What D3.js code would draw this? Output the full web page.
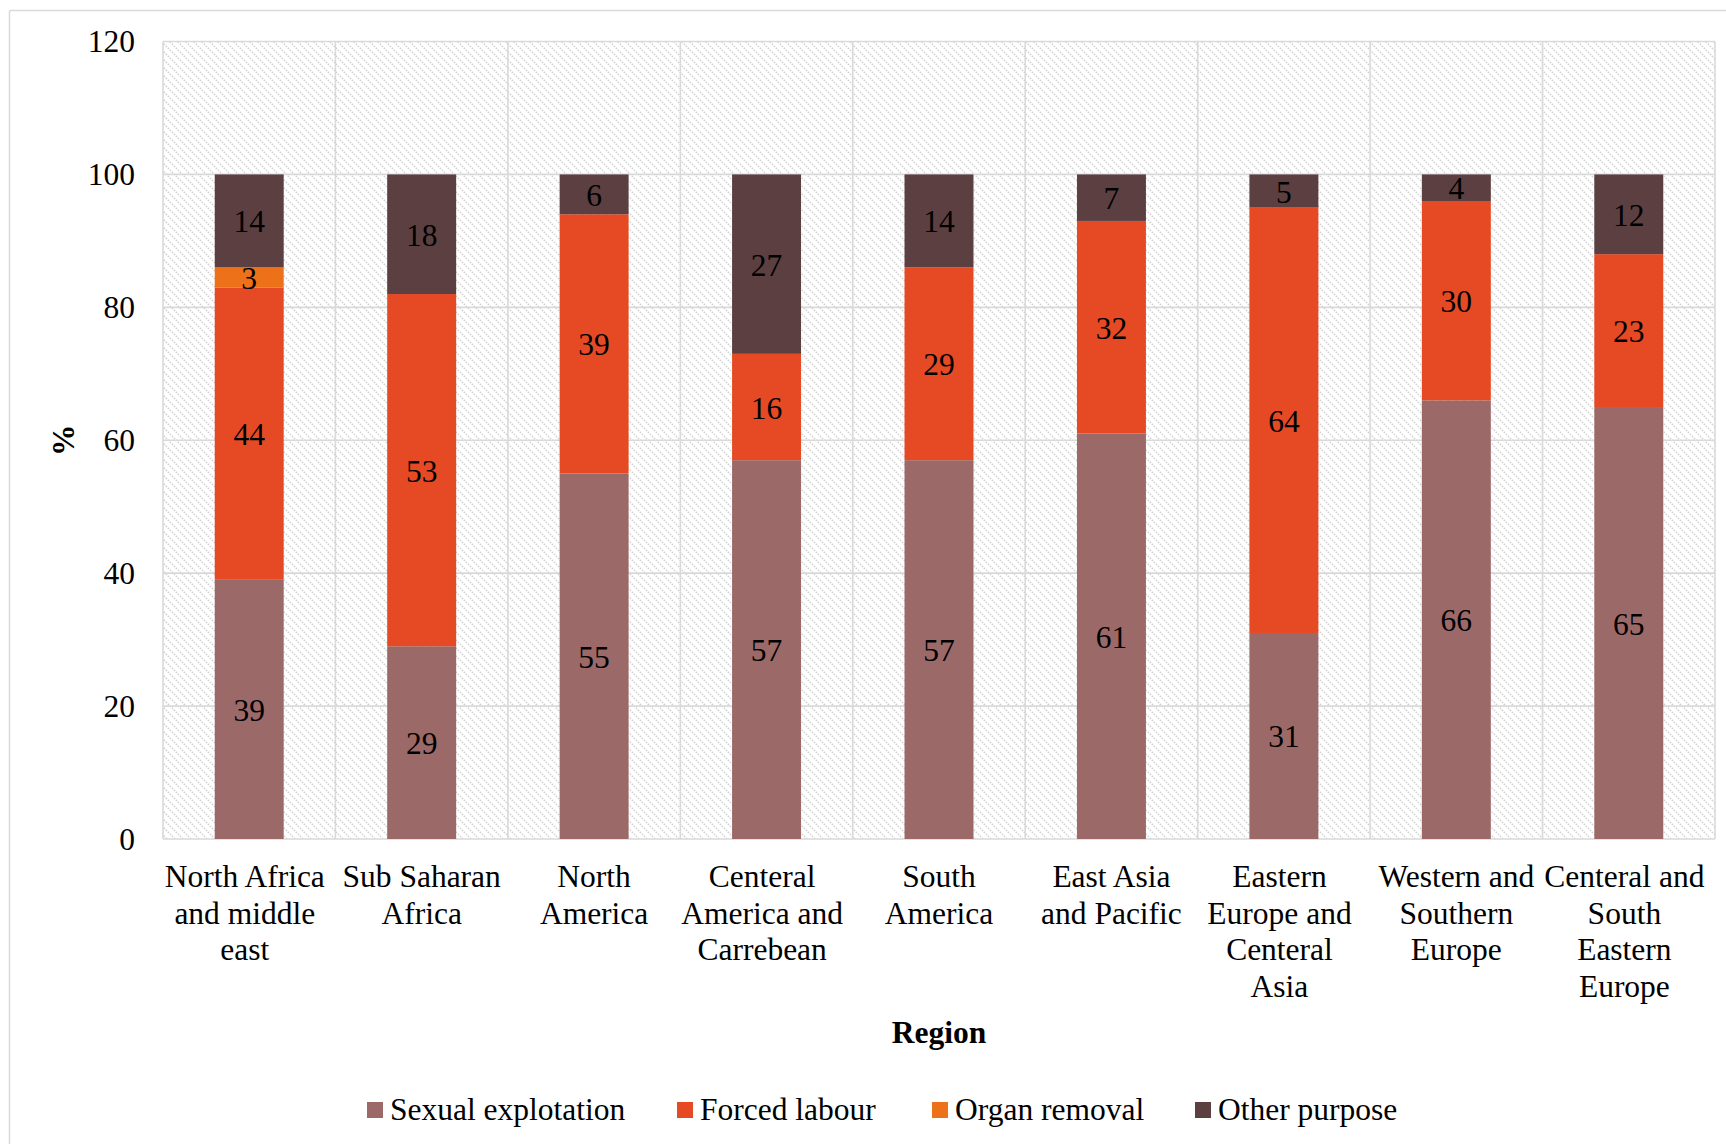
<!DOCTYPE html>
<html>
<head>
<meta charset="utf-8">
<script src="https://cdn.jsdelivr.net/npm/d3@7"></script>
<style>
  html, body { margin: 0; padding: 0; background: #fff; }
  svg { display: block; font-family: "Liberation Serif", "Times New Roman", serif; }
</style>
</head>
<body>
<svg id="chart" width="1726" height="1144"></svg>
<script>
// ---- Data ----
const categories = [
  "North Africa and middle east",
  "Sub Saharan Africa",
  "North America",
  "Centeral America and Carrebean",
  "South America",
  "East Asia and Pacific",
  "Eastern Europe and Centeral Asia",
  "Western and Southern Europe",
  "Centeral and South Eastern Europe"
];
const categoryLines = [
  ["North Africa", "and middle", "east"],
  ["Sub Saharan", "Africa"],
  ["North", "America"],
  ["Centeral", "America and", "Carrebean"],
  ["South", "America"],
  ["East Asia", "and Pacific"],
  ["Eastern", "Europe and", "Centeral", "Asia"],
  ["Western and", "Southern", "Europe"],
  ["Centeral and", "South", "Eastern", "Europe"]
];
const seriesNames = ["Sexual explotation", "Forced labour", "Organ removal", "Other purpose"];
const sexualExploitation = [39, 29, 55, 57, 57, 61, 31, 66, 65];
const forcedLabour       = [44, 53, 39, 16, 29, 32, 64, 30, 23];
const organRemoval       = [3, 0, 0, 0, 0, 0, 0, 0, 0];
const otherPurpose       = [14, 18, 6, 27, 14, 7, 5, 4, 12];
const yTicks = [0, 20, 40, 60, 80, 100, 120];
const colors = ["#9c6969", "#e54a24", "#ec7118", "#5c3f40"];

// ---- Setup ----
const svg = d3.select("#chart");
const plot = { left: 163, right: 1715, top: 41.5, bottom: 839 };
const fontSize = 31.5;
// small horizontal nudges of the category labels (as rendered in the original)
const labelNudge = [-4.4, 0, 0, -4.4, 0, 0, -4.4, 0, -4.4];

const x = d3.scaleBand().domain(categories).range([plot.left, plot.right]).padding(0);
const y = d3.scaleLinear().domain([0, 120]).range([plot.bottom, plot.top]);
const barW = x.bandwidth() * 0.4;

// Pattern
const defs = svg.append("defs");
const pat = defs.append("pattern")
  .attr("id", "hatch").attr("patternUnits", "userSpaceOnUse")
  .attr("width", 8).attr("height", 8);
pat.append("rect").attr("width", 8).attr("height", 8).attr("fill", "#ffffff");
pat.append("path")
  .attr("d", "M0,0 L8,8 M-4,4 L4,12 M4,-4 L12,4")
  .attr("stroke", "#d3d3d3").attr("stroke-width", 1.7)
  .attr("stroke-dasharray", "1.4,1.4");

// Outer frame (top & left visible)
svg.append("line").attr("x1", 9.5).attr("x2", 1726).attr("y1", 10.5).attr("y2", 10.5)
  .attr("stroke", "#d9d9d9").attr("stroke-width", 1.5);
svg.append("line").attr("x1", 9.5).attr("x2", 9.5).attr("y1", 10.5).attr("y2", 1144)
  .attr("stroke", "#d9d9d9").attr("stroke-width", 1.5);

// Plot background
svg.append("rect")
  .attr("x", plot.left).attr("y", plot.top)
  .attr("width", plot.right - plot.left).attr("height", plot.bottom - plot.top)
  .attr("fill", "url(#hatch)");

// Gridlines
const grid = svg.append("g").attr("stroke", "#d9d9d9").attr("stroke-width", 1.6);
grid.selectAll("line.h").data(yTicks).join("line")
  .attr("x1", plot.left).attr("x2", plot.right)
  .attr("y1", d => y(d)).attr("y2", d => y(d));
const bounds = categories.map(c => x(c)).concat([plot.right]);
grid.selectAll("line.v").data(bounds).join("line")
  .attr("x1", d => d).attr("x2", d => d)
  .attr("y1", plot.top).attr("y2", plot.bottom);

// Stack
const table = categories.map((c, i) => ({
  cat: c,
  s0: sexualExploitation[i], s1: forcedLabour[i], s2: organRemoval[i], s3: otherPurpose[i]
}));
const stack = d3.stack().keys(["s0", "s1", "s2", "s3"])(table);

const gBars = svg.append("g");
stack.forEach((layer, li) => {
  gBars.append("g").attr("fill", colors[li])
    .selectAll("rect").data(layer).join("rect")
    .attr("x", d => x(d.data.cat) + (x.bandwidth() - barW) / 2)
    .attr("width", barW)
    .attr("y", d => y(d[1]))
    .attr("height", d => y(d[0]) - y(d[1]));
});

// Data labels
const gLab = svg.append("g").attr("font-size", fontSize).attr("fill", "#000")
  .attr("text-anchor", "middle").attr("dominant-baseline", "central");
stack.forEach((layer, li) => {
  gLab.selectAll(null).data(layer.filter(d => d[1] - d[0] > 0)).join("text")
    .attr("x", d => x(d.data.cat) + x.bandwidth() / 2)
    .attr("y", d => y((d[0] + d[1]) / 2) + 1)
    .text(d => d[1] - d[0]);
});

// Y axis labels
const yAxis = d3.axisLeft(y).tickValues(yTicks).tickSize(0).tickPadding(28);
const gy = svg.append("g").attr("transform", `translate(${plot.left},0)`).call(yAxis);
gy.select(".domain").remove();
gy.selectAll("text").attr("font-size", fontSize).attr("font-family", "Liberation Serif").attr("fill", "#000");

// X axis labels (multi-line)
const gx = svg.append("g").attr("font-size", fontSize).attr("fill", "#000").attr("text-anchor", "middle");
categories.forEach((c, i) => {
  const lines = categoryLines[i];
  const cx = x(c) + x.bandwidth() / 2 + labelNudge[i];
  const t = gx.append("text").attr("x", cx).attr("y", 887);
  lines.forEach((ln, j) => {
    t.append("tspan").attr("x", cx).attr("y", 887 + j * 36.5).text(ln);
  });
});

// Axis titles
svg.append("text").attr("x", (plot.left + plot.right) / 2).attr("y", 1043)
  .attr("text-anchor", "middle").attr("font-weight", "bold").attr("font-size", fontSize)
  .text("Region");
svg.append("text")
  .attr("transform", `translate(63,${(plot.top + plot.bottom) / 2}) rotate(-90)`)
  .attr("text-anchor", "middle").attr("dominant-baseline", "central")
  .attr("font-weight", "bold").attr("font-size", fontSize)
  .text("%");

// Legend
const legendX = [367, 677, 932, 1195];
const gLeg = svg.append("g").attr("font-size", fontSize);
seriesNames.forEach((name, i) => {
  gLeg.append("rect").attr("x", legendX[i]).attr("y", 1102).attr("width", 16).attr("height", 16).attr("fill", colors[i]);
  gLeg.append("text").attr("x", legendX[i] + 23).attr("y", 1119.5).text(name);
});
</script>
</body>
</html>
